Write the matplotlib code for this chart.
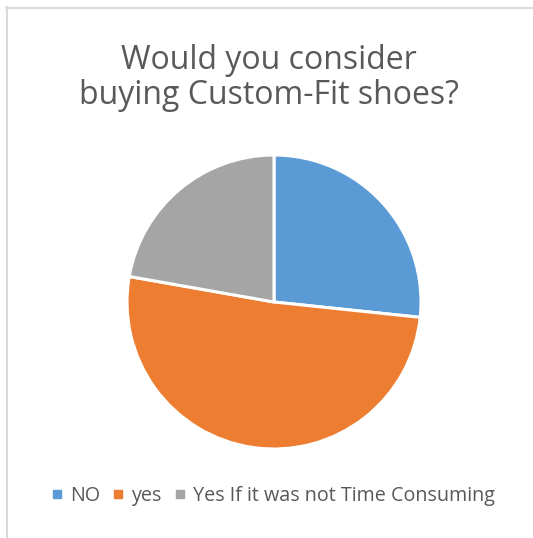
import matplotlib.pyplot as plt
from matplotlib.lines import Line2D

labels = ['NO', 'yes', 'Yes If it was not Time Consuming']
counts = [12, 23, 10]
colors = ['#5B9BD5', '#ED7D31', '#A5A5A5']

plt.rcParams['font.family'] = ['Open Sans', 'DejaVu Sans']

W, H = 533, 538
fig = plt.figure(figsize=(W / 100, H / 100), dpi=100)

# chart-area frame: only top and left edges are visible
fig.add_artist(Line2D([6 / W, 1], [1 - 7.5 / H, 1 - 7.5 / H], color='#D9D9D9', lw=1.5))
fig.add_artist(Line2D([6.5 / W, 6.5 / W], [0, 1 - 7 / H], color='#D9D9D9', lw=1.5))

cx, cy, r = 274, 302, 147
ax = fig.add_axes([(cx - r) / W, 1 - (cy + r) / H, 2 * r / W, 2 * r / H])
ax.pie(counts, colors=colors, startangle=90, counterclock=False,
       wedgeprops=dict(edgecolor='white', linewidth=2.2))
ax.set_xlim(-1, 1)
ax.set_ylim(-1, 1)

fig.text(269 / W, 1 - 78 / H, 'Would you consider\nbuying Custom-Fit shoes?',
         ha='center', va='center', fontsize=23, color='#595959', linespacing=1.1)

handles = [Line2D([], [], marker='s', linestyle='none', markersize=5.5,
                  markerfacecolor=c, markeredgecolor=c) for c in colors]
fig.legend(handles, labels, loc='center', bbox_to_anchor=(274 / W, 1 - 496 / H),
           ncol=3, frameon=False, fontsize=14.2, handlelength=0.4,
           handletextpad=0.45, columnspacing=0.75, labelcolor='#595959')

fig.savefig('out.png', dpi=100)
